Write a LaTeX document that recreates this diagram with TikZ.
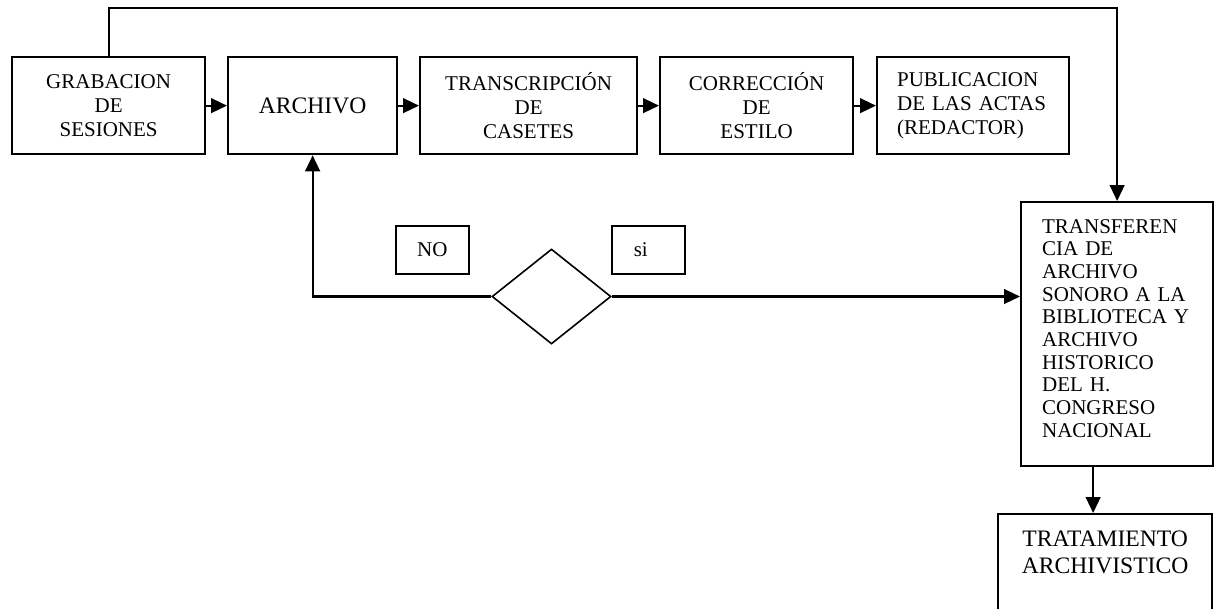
\documentclass[tikz,border=0pt]{standalone}
\usepackage{fontspec}
\setmainfont{Liberation Serif}
\usetikzlibrary{arrows.meta,shapes.geometric}
\newcommand\pxu{0.75pt}
\tikzset{
  box/.style={draw, line width=1.7pt, rectangle, inner sep=0pt, anchor=north west,
    font=\fontsize{15.75}{18}\selectfont, align=center},
  bigtxt/.style={font=\fontsize{17.7}{20}\selectfont},
  arr/.style={line width=1.7pt, -{Triangle[length=12pt,width=11pt]}},
  lblbox/.style={draw, line width=1.2pt, rectangle, inner sep=0pt, anchor=north west,
    font=\fontsize{15.75}{18}\selectfont},
}
\begin{document}
\begin{tikzpicture}[x=0.75pt,y=-0.75pt]
\useasboundingbox (0,0) rectangle (1214,608);
\fill[white] (0,0) rectangle (1214,608);
\clip (0,0) rectangle (1214,608);

\node[box, minimum width=193*\pxu, minimum height=97*\pxu] (grab) at (11,56) {GRABACION\\DE\\SESIONES};
\node[box, bigtxt, minimum width=169*\pxu, minimum height=97*\pxu] (arch) at (227,56) {ARCHIVO};
\node[box, minimum width=217*\pxu, minimum height=97*\pxu] (transc) at (419,56) {TRANSCRIPCIÓN\\DE\\CASETES};
\node[box, minimum width=193*\pxu, minimum height=97*\pxu] (corr) at (659,56) {CORRECCIÓN\\DE\\ESTILO};
\node[box, align=left, text width=152*\pxu, minimum width=192*\pxu, minimum height=97*\pxu] (publ) at (876,56) {PUBLICACION\\DE LAS ACTAS\\(REDACTOR)};

\node[box, align=left, text width=150*\pxu, minimum width=192*\pxu, minimum height=264*\pxu,
  font=\fontsize{15.75}{17}\selectfont] (trans) at (1020,201)
  {TRANSFEREN\\CIA DE\\ARCHIVO\\SONORO A LA\\BIBLIOTECA Y\\ARCHIVO\\HISTORICO\\DEL H.\\CONGRESO\\NACIONAL\rule[-9pt]{0pt}{9pt}};

\node[box, minimum width=214*\pxu, minimum height=102*\pxu] (trat) at (997,513) {};
\node[bigtxt, align=center, inner sep=0pt, anchor=north] (tratxt) at ([yshift=-13.5pt]trat.north) {TRATAMIENTO\\ARCHIVISTICO};

\node[lblbox, minimum width=73*\pxu, minimum height=48*\pxu] (no) at (395,225) {NO};
\node[lblbox, align=left, text width=29*\pxu, minimum width=73*\pxu, minimum height=48*\pxu] (si) at (611,225) {si};

\node[diamond, draw, line width=1.2pt, inner sep=0pt, minimum width=119*\pxu, minimum height=95*\pxu] (dec) at (551.5,296.5) {};

\draw[arr] (grab) -- (arch);
\draw[arr] (arch) -- (transc);
\draw[arr] (transc) -- (corr);
\draw[arr] (corr) -- (publ);

\coordinate (topy) at (0,8);
\draw[arr] (grab.north) -- (grab.north |- topy) -| (trans.north);

\draw[arr] (dec.west) -| (arch.south);
\draw[arr] (dec.east) -- (dec.east -| trans.west);

\coordinate (tsrc) at ([xshift=-18pt]trans.south);
\draw[arr] (tsrc) -- (tsrc |- trat.north);
\end{tikzpicture}
\end{document}
